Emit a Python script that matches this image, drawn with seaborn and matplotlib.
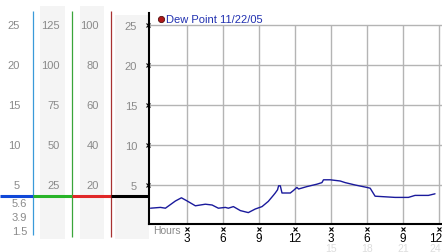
import numpy as np
import pandas as pd
import matplotlib
matplotlib.use("Agg")
import matplotlib.pyplot as plt
import matplotlib.transforms as mtransforms
from matplotlib.patches import Rectangle
import seaborn as sns

# ---------------- data ----------------
hours = [0.0, 0.83, 1.24, 2.07, 2.57, 3.05, 3.73, 4.56, 5.12, 5.64, 6.22, 6.47,
         6.89, 7.47, 8.13, 8.71, 9.27, 9.79, 10.21, 10.37, 10.56, 10.65, 10.79,
         10.93, 11.62, 11.87, 12.17, 12.31, 13.0, 13.83, 14.25, 14.38, 14.94,
         15.77, 16.18, 17.01, 17.98, 18.26, 18.67, 19.23, 20.33, 21.44, 21.99,
         23.1, 23.65]
dew_point = [2.1, 2.2, 2.1, 3.0, 3.4, 3.0, 2.4, 2.6, 2.5, 2.1, 2.2, 2.1,
             2.3, 1.8, 1.55, 2.0, 2.3, 2.95, 3.7, 4.0, 4.4, 4.9, 4.9,
             4.0, 4.0, 4.3, 4.7, 4.5, 4.8, 5.1, 5.3, 5.65, 5.65,
             5.5, 5.3, 5.0, 4.7, 4.6, 3.6, 3.55, 3.45, 3.45, 3.7,
             3.7, 3.9]
hour_ticks = [3, 6, 9, 12, 15, 18, 21, 24]
hour_tick_labels = ["3", "6", "9", "12", "3", "6", "9", "12"]
faint_hours = [15, 18, 21, 24]
faint_labels = ["15", "18", "21", "24"]
value_ticks = [5, 10, 15, 20, 25]
col1_labels = ["5", "10", "15", "20", "25"]
col2_labels = ["25", "50", "75", "100", "125"]
col3_labels = ["20", "40", "60", "80", "100"]
col4_labels = ["5", "10", "15", "20", "25"]
stats_labels = ["5.6", "3.9", "1.5"]
legend_label = "Dew Point 11/22/05"
x_title = "Hours"

# ---------------- style ----------------
sns.set_theme(style="white")
plt.rcParams['font.family'] = ['Liberation Sans', 'DejaVu Sans']

W, H = 442, 253
fig = plt.figure(figsize=(W / 100, H / 100), dpi=100)
fig.patch.set_facecolor('white')

# overlay axes in pixel coordinates
ov = fig.add_axes([0, 0, 1, 1], zorder=0)
ov.set_xlim(0, W)
ov.set_ylim(H, 0)
ov.axis('off')

L, R, B, T = 149, 442, 225, 14
ax = fig.add_axes([L / W, 1 - B / H, (R - L) / W, (B - T) / H], zorder=1)
ax.patch.set_alpha(0)
px_per_hour = 12.03
px_per_unit = 8.0
x0_off = -1.5 / px_per_hour
ax.set_xlim(x0_off, x0_off + (R - L) / px_per_hour)
ax.set_ylim(0.125, 0.125 + (B - T) / px_per_unit)

grey_bg = '#f4f4f4'
for (x0, y0, w, h) in [(40, 7, 25, 233), (80, 7, 24, 233), (115, 16, 34, 224)]:
    ov.add_patch(Rectangle((x0, y0), w, h, facecolor=grey_bg, edgecolor='none'))

# coloured vertical separators
ov.plot([33, 33], [12, 236], color='#3a9ad9', lw=0.9, solid_capstyle='butt')
ov.plot([72, 72], [12, 238], color='#3aa53a', lw=0.9, solid_capstyle='butt')
ov.plot([111, 111], [12, 238], color='#a83232', lw=0.9, solid_capstyle='butt')

# coloured horizontal bar
for (xa, xb, c) in [(0, 33, '#1048d8'), (33, 72, '#28b428'),
                    (72, 111, '#e02828'), (111, 149, 'black')]:
    ov.plot([xa, xb], [197, 197], color=c, lw=2.2, solid_capstyle='butt')

trans_left = mtransforms.blended_transform_factory(ov.transData, ax.transData)
label_grey = '#8a8a8a'
for xr, labels in [(20, col1_labels), (60, col2_labels), (99, col3_labels)]:
    for v, lab in zip(value_ticks, labels):
        ov.text(xr, v, lab, transform=trans_left, ha='right', va='center',
                color=label_grey, fontsize=8)

for yp, lab in zip([204, 218.5, 232], stats_labels):
    ov.text(27, yp, lab, ha='right', va='center', color=label_grey, fontsize=8)

# main line
df = pd.DataFrame({"hour": hours, "dew": dew_point})
sns.lineplot(data=df, x="hour", y="dew", ax=ax, color='#1a1a9c', lw=1.0, zorder=3)
ax.set_xlabel("")
ax.set_ylabel("")

grid_c = '#b4b4b4'
ax.set_yticks(value_ticks)
ax.set_yticklabels(col4_labels, color=label_grey, fontsize=8)
ax.tick_params(axis='y', length=0, pad=8.6)
ax.yaxis.grid(True, color=grid_c, lw=1.0)
ax.xaxis.grid(False)
ax.vlines(hour_ticks, 0, 25, color=grid_c, lw=1.0, zorder=1)

ax.set_xticks(hour_ticks)
ax.set_xticklabels(hour_tick_labels, color='black', fontsize=8.5)
ax.tick_params(axis='x', length=0, pad=5.5)
# keep the last label inside the canvas
shift = mtransforms.ScaledTranslation(-3.5 / 100, 0, fig.dpi_scale_trans)
last_lab = ax.get_xticklabels()[-1]
last_lab.set_transform(last_lab.get_transform() + shift)

for s in ['top', 'right']:
    ax.spines[s].set_visible(False)
for s in ['left', 'bottom']:
    ax.spines[s].set_visible(True)
    ax.spines[s].set_color('black')
    ax.spines[s].set_linewidth(1.5)

# small tick glyphs
trans_xt = mtransforms.blended_transform_factory(ax.transData, ov.transData)
ov.plot(hour_ticks, [230] * len(hour_ticks), transform=trans_xt, ls='none',
        marker='x', ms=2.5, mew=0.8, color='black', clip_on=False)
ov.plot([147.5] * len(value_ticks), value_ticks, transform=trans_left, ls='none',
        marker='x', ms=2.5, mew=0.8, color='black', clip_on=False)

for hx, lab in zip(faint_hours, faint_labels):
    t = ov.text(hx, 252.5, lab, transform=trans_xt, ha='center', va='baseline',
                color='#dddddd', fontsize=7.5)
    if hx == faint_hours[-1]:
        t.set_transform(trans_xt + shift)

ov.text(153, 231, x_title, ha='left', va='center', color=label_grey, fontsize=7.5)

# legend entry
ov.plot([161], [20], marker='o', ms=4.5, color='#b01818', mec='#501010', mew=0.6)
ov.text(166, 20, legend_label, ha='left', va='center', color='#2030b0', fontsize=8)

fig.savefig("out.png", dpi=100)
